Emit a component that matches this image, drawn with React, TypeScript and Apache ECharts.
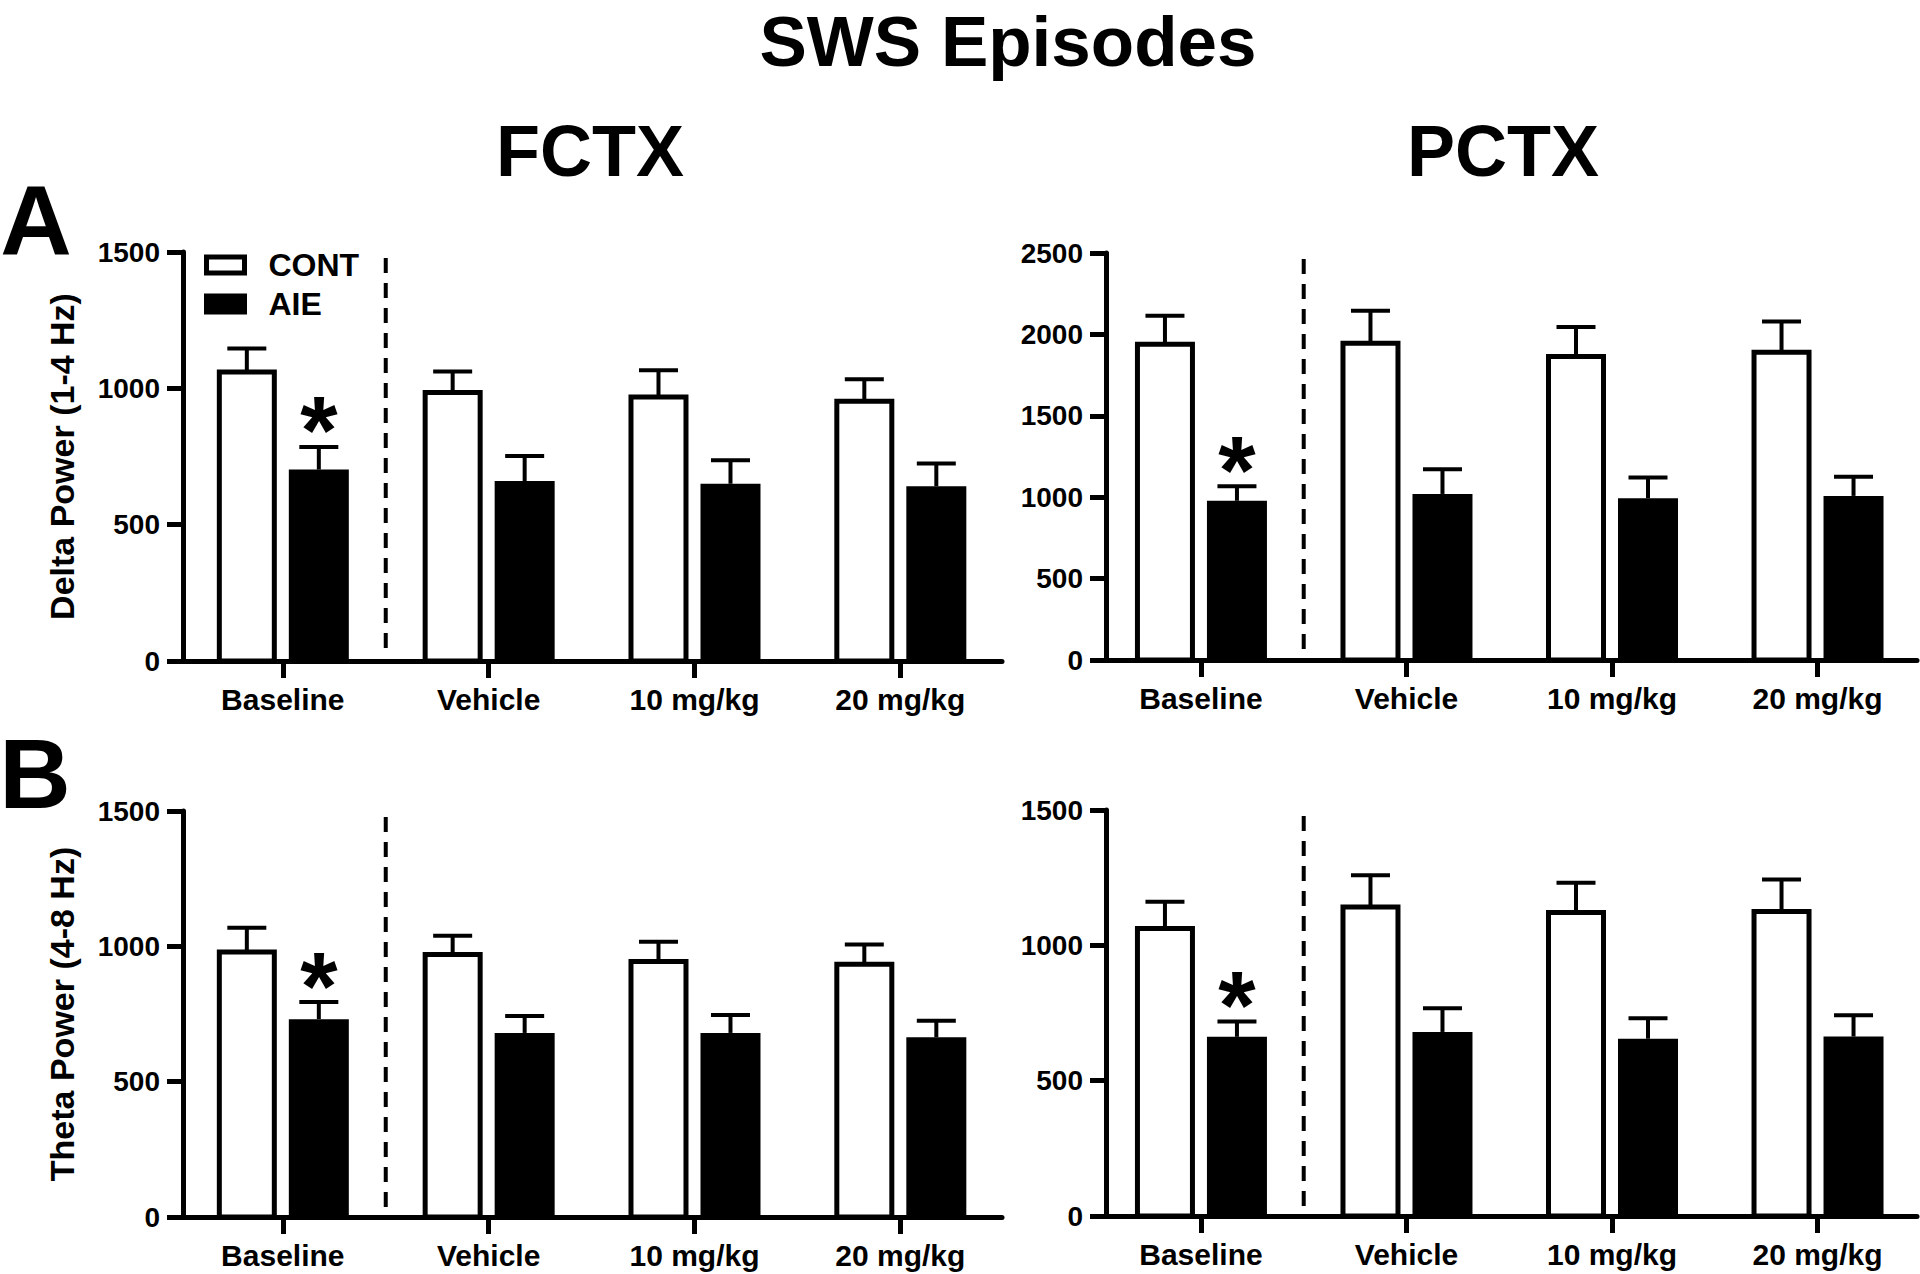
import React, { useEffect, useRef } from 'react';
import * as echarts from 'echarts';

// ---------- data ----------
const categories = ['Baseline', 'Vehicle', '10 mg/kg', '20 mg/kg'];
const groupNames = ['CONT', 'AIE'];

// A: Delta power (1-4 Hz)
const fctxDeltaCont = [1060, 985, 968, 953];
const fctxDeltaContSem = [86, 77, 98, 80];
const fctxDeltaAie = [702, 660, 650, 641];
const fctxDeltaAieSem = [83, 92, 86, 83];

const pctxDeltaCont = [1940, 1945, 1865, 1890];
const pctxDeltaContSem = [175, 200, 180, 190];
const pctxDeltaAie = [978, 1020, 994, 1008];
const pctxDeltaAieSem = [90, 152, 127, 117];

// B: Theta power (4-8 Hz)
const fctxThetaCont = [979, 970, 944, 934];
const fctxThetaContSem = [90, 69, 73, 73];
const fctxThetaAie = [731, 680, 680, 664];
const fctxThetaAieSem = [63, 63, 66, 61];

const pctxThetaCont = [1062, 1142, 1121, 1125];
const pctxThetaContSem = [99, 117, 110, 118];
const pctxThetaAie = [662, 680, 655, 663];
const pctxThetaAieSem = [57, 88, 76, 79];

// significance marker (*) above AIE bars
const aieSignificant = [1, 0, 0, 0];
// dashed divider between Baseline and treatment days (category units)
const dividerAt = [0.5];

const yTickInterval = 500;
const deltaFctxMax = 1500;
const deltaPctxMax = 2500;
const thetaMax = 1500;

const mainTitle = 'SWS Episodes';
const regionTitles = ['FCTX', 'PCTX'];
const panelLetters = ['A', 'B'];
const yTitles = ['Delta Power (1-4 Hz)', 'Theta Power (4-8 Hz)'];

// ---------- layout / styling ----------
const FONT = '"Liberation Sans", Arial, Helvetica, sans-serif';

const panels = [
  { grid: { left: 183, top: 252, width: 819, height: 409 }, xMin: -0.485, xMax: 3.494, yMax: deltaFctxMax,
    cont: fctxDeltaCont, contSem: fctxDeltaContSem, aie: fctxDeltaAie, aieSem: fctxDeltaAieSem, yName: yTitles[0] },
  { grid: { left: 1106, top: 253, width: 811, height: 407 }, xMin: -0.462, xMax: 3.484, yMax: deltaPctxMax,
    cont: pctxDeltaCont, contSem: pctxDeltaContSem, aie: pctxDeltaAie, aieSem: pctxDeltaAieSem, yName: '' },
  { grid: { left: 183, top: 811, width: 819, height: 406 }, xMin: -0.485, xMax: 3.494, yMax: thetaMax,
    cont: fctxThetaCont, contSem: fctxThetaContSem, aie: fctxThetaAie, aieSem: fctxThetaAieSem, yName: yTitles[1] },
  { grid: { left: 1106, top: 810, width: 811, height: 406 }, xMin: -0.462, xMax: 3.484, yMax: thetaMax,
    cont: pctxThetaCont, contSem: pctxThetaContSem, aie: pctxThetaAie, aieSem: pctxThetaAieSem, yName: '' },
];

const makeBarRender = (kind: 'cont' | 'aie') => (params: any, api: any) => {
  const idx = api.value(0);
  const v = api.value(1);
  const sem = api.value(2);
  const sig = api.value(3);
  const base = api.coord([idx, 0]);
  const top = api.coord([idx, v]);
  const err = api.coord([idx, v + sem]);
  const cx = base[0] + (kind === 'cont' ? -36 : 36);
  const children: any[] = [];
  if (kind === 'cont') {
    children.push({
      type: 'rect',
      shape: { x: cx - 27.5, y: top[1], width: 55, height: base[1] - top[1] },
      style: { fill: '#fff', stroke: '#000', lineWidth: 5 },
    });
  } else {
    children.push({
      type: 'rect',
      shape: { x: cx - 30, y: top[1], width: 60, height: base[1] - top[1] },
      style: { fill: '#000' },
    });
  }
  children.push({
    type: 'line',
    shape: { x1: cx, y1: top[1], x2: cx, y2: err[1] },
    style: { stroke: '#000', lineWidth: 4 },
  });
  children.push({
    type: 'line',
    shape: { x1: cx - 19.5, y1: err[1], x2: cx + 19.5, y2: err[1] },
    style: { stroke: '#000', lineWidth: 4 },
  });
  if (sig) {
    children.push({
      type: 'text',
      style: {
        text: '*', x: cx, y: err[1] - 17,
        align: 'center', verticalAlign: 'middle',
        fontSize: 96, fontWeight: 'bold', fontFamily: FONT, fill: '#000',
      },
    });
  }
  return { type: 'group', children };
};

const dividerRender = (params: any, api: any) => {
  const x = api.value(0);
  const yMax = api.value(1);
  const p0 = api.coord([x, yMax]);
  const p1 = api.coord([x, 0]);
  return {
    type: 'line',
    shape: { x1: p0[0], y1: p0[1] + 6, x2: p1[0], y2: p1[1] - 4 },
    style: { stroke: '#000', lineWidth: 4, lineDash: [15, 10] },
  };
};

function buildOption() {
  const grids: any[] = [];
  const xAxes: any[] = [];
  const yAxes: any[] = [];
  const series: any[] = [];
  const tickIdx = categories.map((_, i) => i);

  panels.forEach((p, i) => {
    grids.push({ ...p.grid, containLabel: false });
    xAxes.push({
      gridIndex: i, type: 'value', min: p.xMin, max: p.xMax,
      axisLine: { show: true, onZero: false, lineStyle: { color: '#000', width: 5 } },
      axisTick: { show: true, customValues: tickIdx, length: 17, lineStyle: { color: '#000', width: 5 } },
      axisLabel: {
        show: true, customValues: tickIdx,
        formatter: (val: number) => categories[Math.round(val)] ?? '',
        fontSize: 30, fontWeight: 'bold', color: '#000', fontFamily: FONT, margin: 23,
      },
      splitLine: { show: false },
    });
    yAxes.push({
      gridIndex: i, type: 'value', min: 0, max: p.yMax, interval: yTickInterval,
      name: p.yName, nameLocation: 'middle', nameGap: 104, nameRotate: 90,
      nameTextStyle: { fontSize: 34, fontWeight: 'bold', color: '#000', fontFamily: FONT },
      axisLine: { show: true, onZero: false, lineStyle: { color: '#000', width: 5 } },
      axisTick: { show: true, length: 16, lineStyle: { color: '#000', width: 5 } },
      axisLabel: {
        fontSize: 28, fontWeight: 'bold', color: '#000', fontFamily: FONT, margin: 23,
        formatter: (val: number) => String(val),
      },
      splitLine: { show: false },
    });
    series.push({
      type: 'custom', name: groupNames[0], xAxisIndex: i, yAxisIndex: i,
      renderItem: makeBarRender('cont'),
      itemStyle: { color: '#fff', borderColor: '#000', borderWidth: 5 },
      encode: { x: 0, y: 1 },
      data: p.cont.map((v, k) => [k, v, p.contSem[k], 0]),
      z: 3,
    });
    series.push({
      type: 'custom', name: groupNames[1], xAxisIndex: i, yAxisIndex: i,
      renderItem: makeBarRender('aie'),
      itemStyle: { color: '#000', borderColor: '#000', borderWidth: 5 },
      encode: { x: 0, y: 1 },
      data: p.aie.map((v, k) => [k, v, p.aieSem[k], aieSignificant[k]]),
      z: 3,
    });
    series.push({
      type: 'custom', name: 'divider', xAxisIndex: i, yAxisIndex: i,
      renderItem: dividerRender,
      encode: { x: 0, y: 1 },
      data: dividerAt.map((d) => [d, p.yMax]),
      silent: true, z: 2,
    });
  });

  const txt = (text: string, x: number, y: number, size: number) => ({
    type: 'text',
    style: {
      text, x, y, align: 'center', verticalAlign: 'middle',
      fontSize: size, fontWeight: 'bold', fontFamily: FONT, fill: '#000',
    },
  });

  return {
    animation: false,
    backgroundColor: '#fff',
    grid: grids,
    xAxis: xAxes,
    yAxis: yAxes,
    series,
    legend: {
      left: 204, top: 249, orient: 'vertical', icon: 'rect', padding: 0,
      itemWidth: 38, itemHeight: 16, itemGap: 7, selectedMode: false,
      data: [
        { name: groupNames[0], itemStyle: { color: '#fff', borderColor: '#000', borderWidth: 5 } },
        { name: groupNames[1], itemStyle: { color: '#000', borderColor: '#000', borderWidth: 5 } },
      ],
      textStyle: { fontSize: 32, fontWeight: 'bold', color: '#000', fontFamily: FONT, lineHeight: 32, padding: [0, 0, 0, 19] },
    },
    graphic: [
      txt(mainTitle, 1008, 41, 71),
      txt(regionTitles[0], 590, 151, 72),
      txt(regionTitles[1], 1503, 151, 72),
      txt(panelLetters[0], 36, 219, 99),
      txt(panelLetters[1], 35, 773, 99),
    ],
  };
}

export default function App() {
  const ref = useRef<HTMLDivElement>(null);
  useEffect(() => {
    if (!ref.current) return;
    const chart = echarts.init(ref.current, undefined, { renderer: 'svg' });
    chart.setOption(buildOption() as any);
    return () => chart.dispose();
  }, []);
  return (
    <div
      ref={ref}
      style={{ position: 'absolute', left: 0, top: 0, width: 1920, height: 1274, background: '#fff' }}
    />
  );
}
